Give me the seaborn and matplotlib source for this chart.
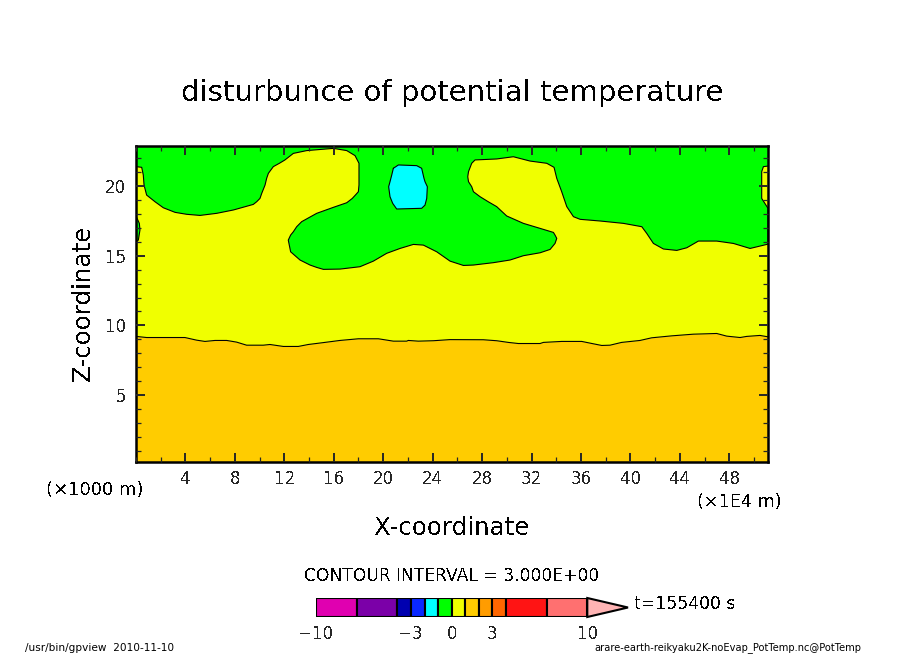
import matplotlib
matplotlib.use("Agg")
import matplotlib.pyplot as plt
import seaborn as sns
from matplotlib.ticker import MultipleLocator

# --- data: contour boundaries (x in 1E4 m, z in 1000 m)
orange_x = [0, 0.86, 3.96, 4.91, 5.58, 6.39, 7.34, 8.14, 8.95, 10.30, 10.84, 11.92, 13.13, 13.94, 15.02, 16.50,
            17.99, 19.61, 20.82, 21.90, 22.03, 22.84, 24.06, 25.40, 28.10, 29.18, 30.12, 30.93, 32.69, 32.96,
            34.44, 36.06, 37.0, 37.68, 38.35, 39.29, 40.78, 41.72, 43.34, 45.09, 46.98, 47.79, 48.87, 49.41,
            50.48, 51.13]
orange_z = [9.21, 9.13, 9.13, 8.94, 8.85, 8.92, 8.92, 8.80, 8.58, 8.58, 8.63, 8.49, 8.49, 8.63, 8.75, 8.92,
            9.04, 9.04, 8.87, 8.87, 8.92, 8.87, 8.90, 8.98, 8.97, 8.90, 8.78, 8.70, 8.70, 8.78,
            8.85, 8.85, 8.68, 8.56, 8.58, 8.78, 8.92, 9.11, 9.25, 9.37, 9.42, 9.23, 9.13, 9.21,
            9.28, 9.18]

green_x = [0, 0.46, 0.59, 0.65, 0.86, 1.54, 2.21, 3.16, 4.10, 5.18, 6.53, 7.88, 9.49, 9.76, 10.03, 10.17, 10.44, 10.57, 10.71,
           11.11, 11.6, 12.05, 12.73, 13.81, 15.97, 17.05, 17.72, 18.04, 18.04, 17.99, 17.80, 17.5, 17.05, 15.97, 14.62, 13.40,
           13.0, 12.73, 12.51, 12.32, 12.51, 12.87, 13.27, 14.08, 14.62, 15.16, 16.51, 18.12, 19.20, 20.28, 21.36, 22.44, 23.25, 24.33,
           25.41, 26.49, 27.30, 28.91, 30.26, 31.34, 32.69, 33.50, 33.9, 34.04, 33.9, 33.77, 32.69, 31.34, 29.99, 29.18,
           28.5, 27.84, 27.3, 27.16, 26.9, 26.84, 26.9, 27.16, 27.43, 29.18, 30.53, 31.88, 33.23, 33.82, 34.04, 34.44, 34.85, 35.39,
           35.93, 37.54, 39.43, 40.92, 41.32, 41.86, 42.67, 43.75, 44.56, 45.50, 46.98, 48.33, 49.68, 51.13,
           51.13, 50.62, 50.62, 50.76, 51.13]
green_z = [21.39, 21.34, 20.79, 20.07, 19.35, 18.87, 18.44, 18.11, 17.97, 17.89, 18.04, 18.28, 18.68, 18.87, 19.11, 19.47, 20.07, 20.55, 20.91,
           21.39, 21.63, 21.87, 22.34, 22.54, 22.70, 22.54, 22.18, 21.63, 20.07, 19.59, 19.40, 19.11, 18.80, 18.47, 18.04, 17.44,
           17.08, 16.72, 16.48, 16.12, 15.28, 15.0, 14.69, 14.33, 14.16, 14.02, 14.04, 14.21, 14.61, 15.17, 15.52, 15.81, 15.76, 15.28,
           14.61, 14.30, 14.33, 14.50, 14.69, 15.00, 15.21, 15.45, 15.88, 16.24, 16.48, 16.67, 16.96, 17.32, 17.85, 18.52,
           18.87, 19.23, 19.59, 19.95, 20.31, 20.67, 21.03, 21.63, 21.87, 21.94, 22.10, 21.79, 21.63, 21.34, 20.55, 19.59, 18.52, 17.80,
           17.61, 17.49, 17.32, 17.08, 16.60, 15.88, 15.48, 15.38, 15.57, 16.05, 16.05, 15.88, 15.52, 15.83,
           18.40, 19.11, 21.03, 21.39, 21.43]

patch_x = [0, 0.27, 0.32, 0.19, 0]
patch_z = [17.85, 17.32, 16.84, 16.12, 16.0]

cyan_x = [20.82, 21.23, 22.71, 23.11, 23.30, 23.38, 23.57, 23.52, 23.38, 23.11, 21.09, 20.77, 20.55, 20.44, 20.55, 20.69, 20.82]
cyan_z = [21.27, 21.51, 21.46, 21.27, 20.55, 20.31, 19.95, 19.11, 18.63, 18.40, 18.35, 18.75, 19.23, 19.95, 20.31, 20.79, 21.27]

x_range = [0, 51.13]
z_range = [0.2, 22.87]
x_ticks = [4, 8, 12, 16, 20, 24, 28, 32, 36, 40, 44, 48]
z_ticks = [5, 10, 15, 20]

bar_levels = [-10, -7, -4, -3, -2, -1, 0, 1, 2, 3, 4, 7, 10]
bar_over = 13
bar_colors = ["#e000b0", "#7b00a8", "#0000b0", "#0a28ff", "#00ffff", "#00ff00", "#f0ff00",
              "#ffcc00", "#ff9c00", "#ff6600", "#ff1414", "#ff7070"]
over_color = "#ffb4b4"
bar_ticks = [-10, -3, 0, 3, 10]

W, H = 904, 654
sns.set_style("white")
plt.rcParams.update({"font.family": ["DejaVu Sans"], "text.antialiased": False})

fig = plt.figure(figsize=(W / 100, H / 100), dpi=100)


def box(l, t, r, b):
    return [l / W, 1 - b / H, (r - l) / W, (b - t) / H]


def label(px, py, s, size, ha="center", **kw):
    fig.text(px / W, 1 - py / H, s, fontsize=size, ha=ha, va="center", color="k", **kw)


ax = fig.add_axes(box(136, 146, 768, 462))
ax.set_axisbelow(False)
ax.set_facecolor("#f0ff00")
ax.fill_between(orange_x, z_range[0], orange_z, color="#ffcc00", lw=0)
ax.fill(green_x + [x_range[1], x_range[0]], green_z + [z_range[1], z_range[1]], color="#00ff00", lw=0)
ax.fill(patch_x, patch_z, color="#00ff00", lw=0)
ax.fill(cyan_x, cyan_z, color="#00ffff", lw=0)

for xs, zs in [(orange_x, orange_z), (green_x, green_z), (patch_x, patch_z), (cyan_x, cyan_z)]:
    sns.lineplot(x=xs, y=zs, sort=False, estimator=None, color="k", lw=0.8, ax=ax, legend=False)

ax.set_xlim(x_range)
ax.set_ylim(z_range)
ax.set_xlabel("")
ax.set_ylabel("")
ax.set_xticks(x_ticks)
ax.set_yticks(z_ticks)
ax.xaxis.set_minor_locator(MultipleLocator(2))
ax.yaxis.set_minor_locator(MultipleLocator(1))
ax.tick_params(which="major", direction="in", top=True, right=True, bottom=True, left=True,
               length=6.5, width=1.4, labelsize=12, pad=6)
ax.tick_params(which="minor", direction="in", top=True, right=True, bottom=True, left=True,
               length=3.5, width=0.9)
ax.tick_params(axis="y", which="major", pad=7)
for s in ax.spines.values():
    s.set_visible(True)
    s.set_linewidth(1.8)
    s.set_color("k")

# colour bar
cax = fig.add_axes(box(316, 598, 628, 617))
cax.barh([0.5] * len(bar_colors), [b - a for a, b in zip(bar_levels[:-1], bar_levels[1:])], height=1,
         left=bar_levels[:-1], color=bar_colors, edgecolor="k", linewidth=1.5)
cax.fill([bar_levels[-1], bar_over, bar_levels[-1]], [1, 0.5, 0], facecolor=over_color, edgecolor="k", lw=1.5, clip_on=False)
cax.set_xlim(bar_levels[0], bar_over)
cax.set_ylim(0, 1)
cax.set_yticks([])
cax.set_xticks(bar_ticks)
cax.tick_params(axis="x", length=0, labelsize=12, pad=6)
sns.despine(ax=cax, left=True, bottom=True, right=True, top=True)

label(452, 93, "disturbunce of potential temperature", 21)
label(452, 528, "X-coordinate", 17.6)
label(83, 303, "Z-coordinate", 17.6, rotation=90)
label(95, 490, "(×1000 m)", 13)
label(739, 502, "(×1E4 m)", 12.7)
label(452, 576, "CONTOUR INTERVAL = 3.000E+00", 12.3)
label(634, 604, "t=155400 s", 12.4, ha="left")
label(25, 648, "/usr/bin/gpview  2010-11-10", 7.6, ha="left", antialiased=True)
label(861, 648, "arare-earth-reikyaku2K-noEvap_PotTemp.nc@PotTemp", 7.1, ha="right", antialiased=True)

fig.savefig("out.png", dpi=100)
